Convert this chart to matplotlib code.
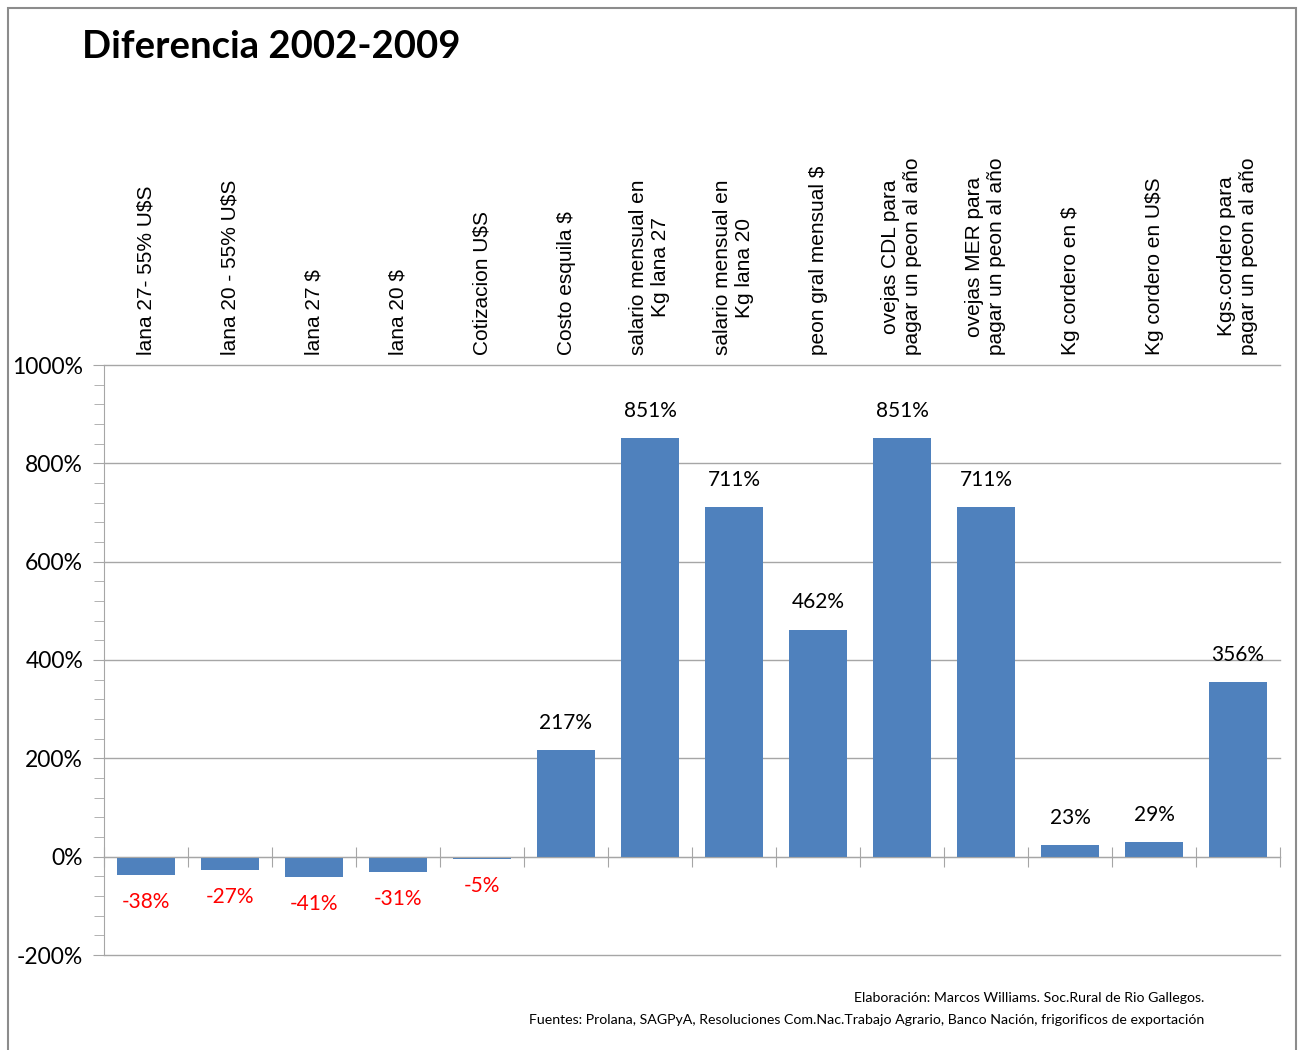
import numpy as np
import matplotlib.pyplot as plt
from matplotlib.patches import Rectangle


categories = [
    "lana 27- 55% U$S",
    "lana 20 - 55% U$S",
    "lana 27 $",
    "lana 20 $",
    "Cotizacion U$S",
    "Costo esquila $",
    "salario mensual en\nKg lana 27",
    "salario mensual en\nKg lana 20",
    "peon gral mensual $",
    "ovejas CDL para\npagar un peon al año",
    "ovejas MER para\npagar un peon al año",
    "Kg cordero en $",
    "Kg cordero en U$S",
    "Kgs.cordero para\npagar un peon al año",
]
values = [-38, -27, -41, -31, -5, 217, 851, 711, 462, 851, 711, 23, 29, 356]
y_ticks = [-200, 0, 200, 400, 600, 800, 1000]

TITLE = "Diferencia 2002-2009"
FOOTER_1 = "Elaboración: Marcos Williams. Soc.Rural de Rio Gallegos."
FOOTER_2 = "Fuentes: Prolana, SAGPyA, Resoluciones Com.Nac.Trabajo Agrario, Banco Nación, frigorificos de exportación"

BAR_COLOR = "#4F81BD"
GRID_COLOR = "#A6A6A6"
NUM_FONT = ["Lato", "DejaVu Sans"]
CAT_FONT = ["Liberation Sans", "DejaVu Sans"]

W, H = 1299, 1050
fig = plt.figure(figsize=(W / 100, H / 100), dpi=100)

# marco exterior
fig.patches.append(Rectangle((8 / W, -0.01), (1296 - 8) / W, 1.01 - 8 / H,
                             transform=fig.transFigure, fill=False,
                             edgecolor="#8C8C8C", linewidth=1.5))

ax = fig.add_axes([104 / W, (H - 955) / H, (1280 - 104) / W, (955 - 365) / H])

x = np.arange(len(values))
ax.bar(x, values, width=0.68, color=BAR_COLOR, zorder=3)

ax.set_xlim(-0.5, len(values) - 0.5)
ax.set_ylim(-200, 1000)
ax.set_yticks(y_ticks)
ax.set_yticklabels([f"{v}%" for v in y_ticks], fontfamily=NUM_FONT, fontsize=16.5)
ax.set_yticks(np.arange(-200, 1001, 40), minor=True)
ax.tick_params(axis="y", which="major", direction="out", length=8, color=GRID_COLOR, pad=7)
ax.tick_params(axis="y", which="minor", direction="out", length=7, color=GRID_COLOR)

ax.grid(axis="y", which="major", color=GRID_COLOR, linewidth=1, zorder=0)
for line in ax.get_ygridlines():
    line.set_clip_on(False)

for side in ["top", "right"]:
    ax.spines[side].set_visible(False)
ax.spines["left"].set_color(GRID_COLOR)
ax.spines["bottom"].set_position(("data", 0))
ax.spines["bottom"].set_color(GRID_COLOR)
ax.spines["bottom"].set_zorder(4)
ax.set_xticks(np.arange(-0.5, len(values), 1.0))
ax.set_xticklabels([])
ax.tick_params(axis="x", direction="inout", length=14, color=GRID_COLOR)

# etiquetas de valores
for xi, v in zip(x, values):
    if v >= 0:
        ax.annotate(f"{v}%", (xi, v), xytext=(0, 19.5), textcoords="offset points",
                    ha="center", va="center", fontsize=15, fontfamily=NUM_FONT)
    else:
        ax.annotate(f"{v}%", (xi, v), xytext=(0, -19.5), textcoords="offset points",
                    ha="center", va="center", fontsize=15, fontfamily=NUM_FONT,
                    color="#FF0000")

# categorias arriba, rotadas
for xi, cat in zip(x, categories):
    ax.annotate(cat, (xi, 1000), xytext=(0, 7), textcoords="offset points",
                ha="center", va="bottom", rotation=90, multialignment="center",
                fontsize=15, fontfamily=CAT_FONT, annotation_clip=False)

fig.text(82 / W, 1 - 47 / H, TITLE, ha="left", va="center", fontsize=27.5,
         fontweight="bold", fontfamily=NUM_FONT)
fig.text(1204 / W, 1 - 998 / H, FOOTER_1, ha="right", va="center",
         fontsize=10.2, fontfamily=NUM_FONT)
fig.text(1204 / W, 1 - 1020 / H, FOOTER_2, ha="right", va="center",
         fontsize=10.2, fontfamily=NUM_FONT)

fig.savefig("out.png", dpi=100)
